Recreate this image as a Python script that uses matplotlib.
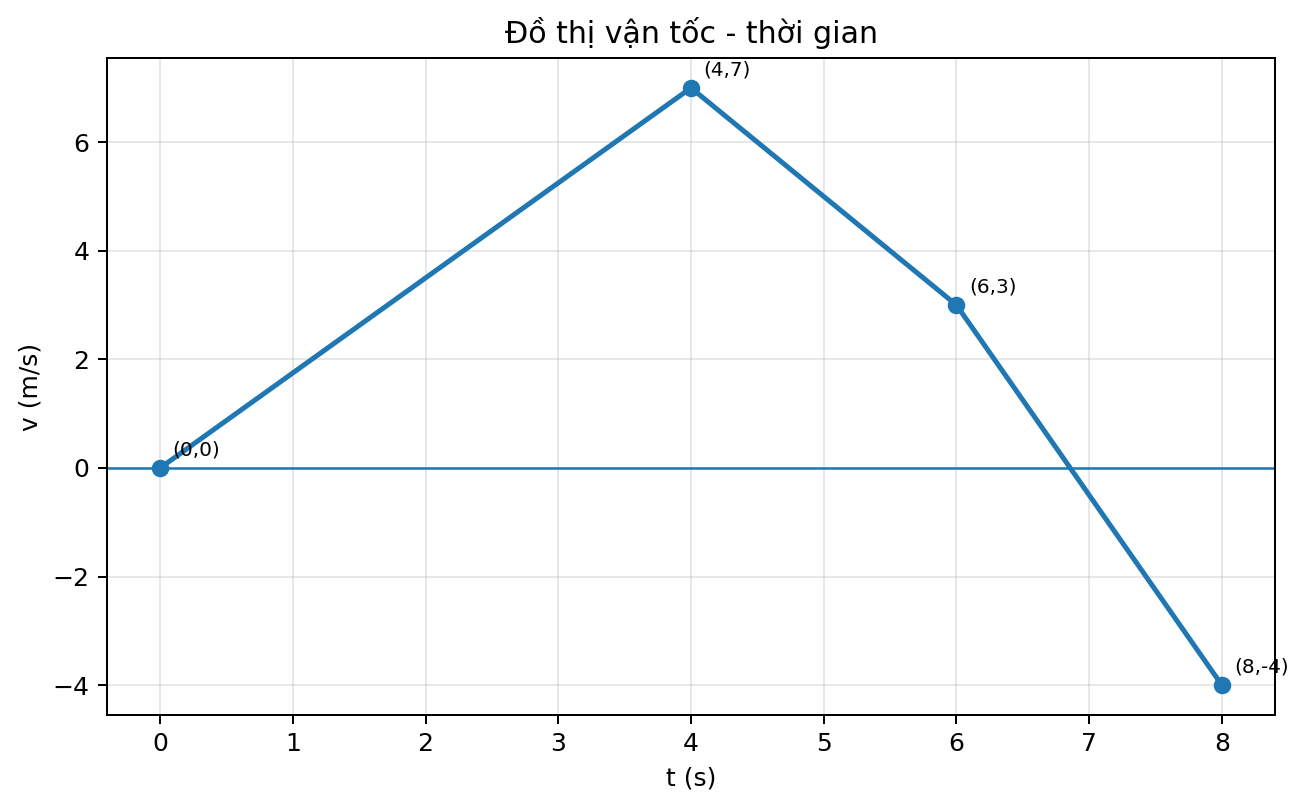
import matplotlib
matplotlib.use("Agg")
import matplotlib.pyplot as plt

# velocity-time points
t = [0, 4, 6, 8]
v = [0, 7, 3, -4]
labels = ["(0,0)", "(4,7)", "(6,3)", "(8,-4)"]

fig, ax = plt.subplots(figsize=(1307 / 180, 809 / 180), dpi=180)
fig.subplots_adjust(left=0.0819, right=0.9755, top=0.9283, bottom=0.1162)

ax.plot(t, v, marker="o", linewidth=2, color="#1f77b4")
ax.axhline(0, linewidth=1, color="#1f77b4")
for x, y, lab in zip(t, v, labels):
    ax.annotate(lab, (x, y), textcoords="offset points", xytext=(5, 5), fontsize=8)

ax.set_title("Đồ thị vận tốc - thời gian")
ax.set_xlabel("t (s)")
ax.set_ylabel("v (m/s)")
ax.grid(True, alpha=0.3)

fig.savefig("out.png", dpi=180)
